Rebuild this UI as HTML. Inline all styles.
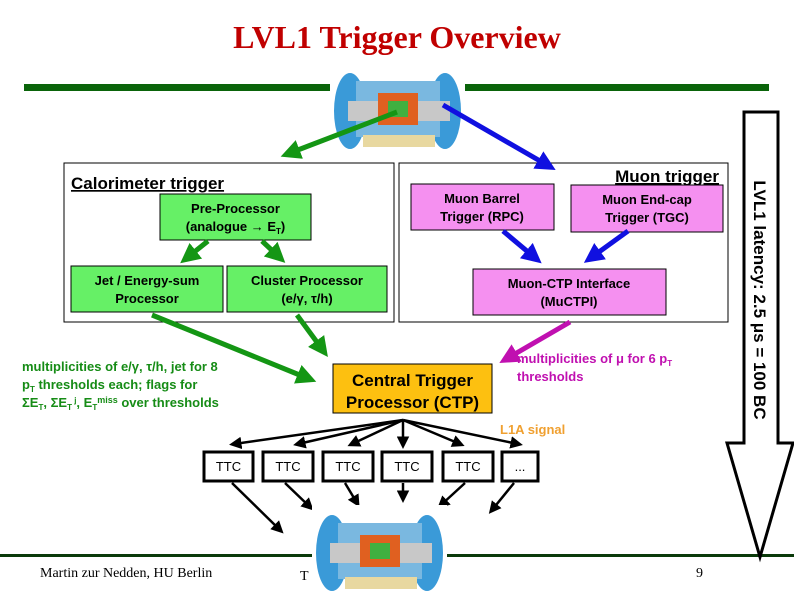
<!DOCTYPE html>
<html><head><meta charset="utf-8"><style>
html,body{margin:0;padding:0;background:#fff;}
svg{display:block;}
text{font-family:"Liberation Sans",sans-serif;font-weight:bold;}
</style></head><body>
<svg width="794" height="595" viewBox="0 0 794 595" xmlns="http://www.w3.org/2000/svg">
<defs>
<marker id="ag" markerWidth="4" markerHeight="4" refX="2" refY="2" orient="auto" markerUnits="strokeWidth"><path d="M0,0 L4,2 L0,4 z" fill="#149614"/></marker>
<marker id="ab" markerWidth="4" markerHeight="4" refX="2" refY="2" orient="auto" markerUnits="strokeWidth"><path d="M0,0 L4,2 L0,4 z" fill="#1010e0"/></marker>
<marker id="am" markerWidth="4" markerHeight="4" refX="2" refY="2" orient="auto" markerUnits="strokeWidth"><path d="M0,0 L4,2 L0,4 z" fill="#c010b0"/></marker>
<marker id="ak" markerWidth="5" markerHeight="5" refX="3" refY="2.5" orient="auto" markerUnits="strokeWidth"><path d="M0,0 L5,2.5 L0,5 z" fill="#000"/></marker>
<g id="det">
<rect x="0" y="0" width="135" height="90" fill="#fff"/>
<ellipse cx="20" cy="48" rx="16" ry="38" fill="#3a9ad8"/>
<ellipse cx="115" cy="48" rx="16" ry="38" fill="#3a9ad8"/>
<rect x="26" y="18" width="84" height="56" fill="#7ab8e0"/>
<rect x="18" y="38" width="102" height="20" fill="#c8c8c8"/>
<rect x="48" y="30" width="40" height="32" fill="#e06020"/>
<rect x="58" y="38" width="20" height="16" fill="#40b040"/>
<rect x="33" y="72" width="72" height="12" fill="#e8d8a0"/>
</g>
</defs>

<text x="397" y="48" text-anchor="middle" font-size="32" fill="#c00000" style="font-family:'Liberation Serif',serif">LVL1 Trigger Overview</text>

<rect x="24" y="84" width="308" height="7" fill="#0a640a"/>
<rect x="463" y="84" width="306" height="7" fill="#0a640a"/>

<use href="#det" x="330" y="63"/>

<rect x="64" y="163" width="330" height="159" fill="#fff" stroke="#000" stroke-width="1"/>
<text x="71" y="189" font-size="17" text-decoration="underline">Calorimeter trigger</text>
<rect x="160" y="194" width="151" height="46" fill="#66f066" stroke="#000"/>
<text x="235.5" y="213" font-size="13" text-anchor="middle">Pre-Processor</text>
<text x="235.5" y="231" font-size="13" text-anchor="middle">(analogue → E<tspan font-size="8" dy="3">T</tspan><tspan dy="-3">)</tspan></text>
<rect x="71" y="266" width="152" height="46" fill="#66f066" stroke="#000"/>
<text x="147" y="285" font-size="13" text-anchor="middle">Jet / Energy-sum</text>
<text x="147" y="303" font-size="13" text-anchor="middle">Processor</text>
<rect x="227" y="266" width="160" height="46" fill="#66f066" stroke="#000"/>
<text x="307" y="285" font-size="13" text-anchor="middle">Cluster Processor</text>
<text x="307" y="303" font-size="13" text-anchor="middle">(e/γ, τ/h)</text>

<rect x="399" y="163" width="329" height="159" fill="#fff" stroke="#000" stroke-width="1"/>
<text x="719" y="182" font-size="17" text-anchor="end" text-decoration="underline">Muon trigger</text>
<rect x="411" y="184" width="143" height="46" fill="#f590f0" stroke="#000"/>
<text x="482" y="203" font-size="13" text-anchor="middle">Muon Barrel</text>
<text x="482" y="221" font-size="13" text-anchor="middle">Trigger (RPC)</text>
<rect x="571" y="185" width="152" height="47" fill="#f590f0" stroke="#000"/>
<text x="647" y="204" font-size="13" text-anchor="middle">Muon End-cap</text>
<text x="647" y="222" font-size="13" text-anchor="middle">Trigger (TGC)</text>
<rect x="473" y="269" width="193" height="46" fill="#f590f0" stroke="#000"/>
<text x="569" y="288" font-size="13" text-anchor="middle">Muon-CTP Interface</text>
<text x="569" y="306" font-size="13" text-anchor="middle">(MuCTPI)</text>

<g stroke="#149614" stroke-width="5" marker-end="url(#ag)">
<line x1="397" y1="112" x2="290" y2="153"/>
<line x1="208" y1="241" x2="188" y2="257"/>
<line x1="262" y1="241" x2="278" y2="256"/>
<line x1="152" y1="315" x2="307" y2="378"/>
<line x1="297" y1="315" x2="322" y2="349"/>
</g>
<g stroke="#1010e0" stroke-width="5" marker-end="url(#ab)">
<line x1="443" y1="105" x2="547" y2="165"/>
<line x1="503" y1="231" x2="534" y2="257"/>
<line x1="628" y1="231" x2="592" y2="257"/>
</g>
<line x1="570" y1="322" x2="508" y2="358" stroke="#c010b0" stroke-width="5" marker-end="url(#am)"/>

<rect x="333" y="364" width="159" height="49" fill="#fdc010" stroke="#000"/>
<text x="412.5" y="386" font-size="17" text-anchor="middle">Central Trigger</text>
<text x="412.5" y="408" font-size="17" text-anchor="middle">Processor (CTP)</text>

<g font-size="13" fill="#168c16">
<text x="22" y="371">multiplicities of e/γ, τ/h, jet for 8</text>
<text x="22" y="389">p<tspan font-size="8" dy="3">T</tspan><tspan dy="-3"> thresholds each; flags for</tspan></text>
<text x="22" y="407">ΣE<tspan font-size="8" dy="3">T</tspan><tspan dy="-3">, ΣE</tspan><tspan font-size="8" dy="3">T</tspan><tspan font-size="8" dy="-7"> j</tspan><tspan dy="4">, E</tspan><tspan font-size="8" dy="3">T</tspan><tspan font-size="9" dy="-7">miss</tspan><tspan dy="4"> over thresholds</tspan></text>
</g>
<g font-size="13" fill="#c010b0">
<text x="517" y="363">multiplicities of μ  for 6 p<tspan font-size="8" dy="3">T</tspan></text>
<text x="517" y="381">thresholds</text>
</g>
<text x="500" y="434" font-size="13" fill="#f0a030">L1A signal</text>

<g stroke="#000" stroke-width="3" fill="#fff">
<rect x="204" y="452" width="49" height="29"/>
<rect x="263" y="452" width="50" height="29"/>
<rect x="323" y="452" width="50" height="29"/>
<rect x="382" y="452" width="50" height="29"/>
<rect x="443" y="452" width="50" height="29"/>
<rect x="502" y="452" width="36" height="29"/>
</g>
<g font-size="13" text-anchor="middle">
<text x="228.5" y="471" style="font-weight:normal">TTC</text>
<text x="288" y="471" style="font-weight:normal">TTC</text>
<text x="348" y="471" style="font-weight:normal">TTC</text>
<text x="407" y="471" style="font-weight:normal">TTC</text>
<text x="468" y="471" style="font-weight:normal">TTC</text>
<text x="520" y="471" style="font-weight:normal">...</text>
</g>
<g stroke="#000" stroke-width="2.5" marker-end="url(#ak)">
<line x1="403" y1="420" x2="234" y2="444"/>
<line x1="403" y1="420" x2="298" y2="444"/>
<line x1="403" y1="420" x2="352" y2="444"/>
<line x1="403" y1="420" x2="403" y2="444"/>
<line x1="403" y1="420" x2="460" y2="444"/>
<line x1="403" y1="420" x2="518" y2="444"/>
<line x1="232" y1="483" x2="280" y2="530"/>
<line x1="285" y1="483" x2="310" y2="507"/>
<line x1="345" y1="483" x2="357" y2="503"/>
<line x1="403" y1="483" x2="403" y2="498"/>
<line x1="465" y1="483" x2="441" y2="505"/>
<line x1="514" y1="483" x2="492" y2="510"/>
</g>

<rect x="0" y="554" width="794" height="3" fill="#0a3a0a"/>
<text x="40" y="577" font-size="14" style="font-family:'Liberation Serif',serif;font-weight:normal">Martin zur Nedden, HU Berlin</text>
<text x="300" y="580" font-size="14" style="font-family:'Liberation Serif',serif;font-weight:normal">T</text>
<text x="696" y="577" font-size="14" style="font-family:'Liberation Serif',serif;font-weight:normal">9</text>
<use href="#det" x="312" y="505"/>

<path d="M744,112 L778,112 L778,443 L793,443 L760,557 L727,443 L744,443 Z" fill="#fff" stroke="#000" stroke-width="3"/>
<text transform="translate(754,300) rotate(90)" font-size="17" text-anchor="middle">LVL1 latency: 2.5 μs = 100 BC</text>
</svg>
</body></html>
